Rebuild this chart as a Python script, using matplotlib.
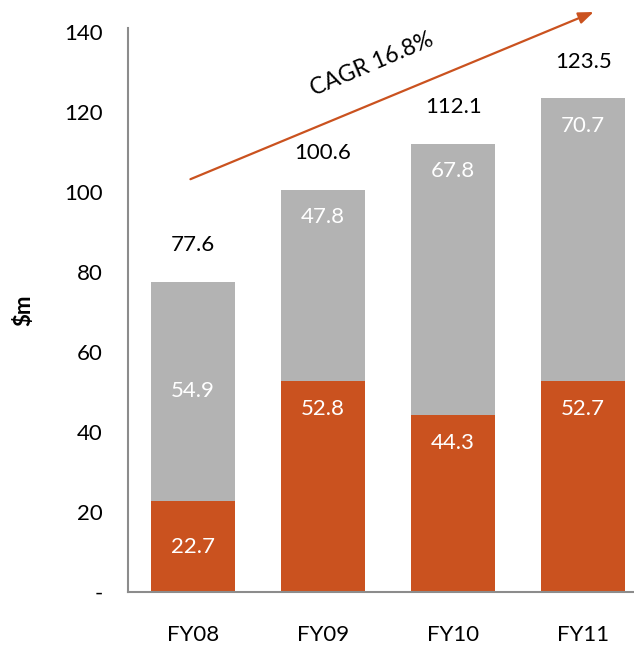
import matplotlib
matplotlib.use("Agg")
import matplotlib.pyplot as plt
from matplotlib.ticker import FuncFormatter

plt.rcParams['font.family'] = ['Lato', 'DejaVu Sans']

# Revenue split by fiscal year ($m)
years = ["FY08", "FY09", "FY10", "FY11"]
lower = [22.7, 52.8, 44.3, 52.7]     # orange segment
upper = [54.9, 47.8, 67.8, 70.7]     # grey segment
totals = [77.6, 100.6, 112.1, 123.5]
cagr_text = "CAGR 16.8%"

ORANGE = "#CA521F"
GREY = "#B3B3B3"

fig = plt.figure(figsize=(6.34, 6.49), dpi=100)
ax = fig.add_axes([128 / 634, 57 / 649, 1 - 128 / 634, 564 / 649])

x = list(range(len(years)))
width = 0.646
ax.bar(x, lower, width, color=ORANGE, zorder=2)
ax.bar(x, upper, width, bottom=lower, color=GREY, zorder=2)

fs = 16
for i in x:
    lo, up, tot = lower[i], upper[i], totals[i]
    if i == 0:
        # first column: values centred in their segments
        ax.text(i, lo / 2, f"{lo:.1f}", ha="center", va="center",
                color="white", fontsize=fs)
        ax.text(i, lo + up / 2, f"{up:.1f}", ha="center", va="center",
                color="white", fontsize=fs)
    else:
        ax.annotate(f"{lo:.1f}", (i, lo), xytext=(0, -20),
                    textcoords="offset points", ha="center", va="center",
                    color="white", fontsize=fs)
        ax.annotate(f"{up:.1f}", (i, lo + up), xytext=(0, -20),
                    textcoords="offset points", ha="center", va="center",
                    color="white", fontsize=fs)
    ax.annotate(f"{tot:.1f}", (i, lo + up), xytext=(0, 26),
                textcoords="offset points", ha="center", va="center",
                color="black", fontsize=fs)

# growth arrow with CAGR annotation
ax.annotate("", xy=(3.08, 145), xytext=(-0.02, 103.2),
            arrowprops=dict(arrowstyle="-|>,head_length=0.9,head_width=0.35",
                            color=ORANGE, lw=1.6, shrinkA=0, shrinkB=0),
            annotation_clip=False)
ax.text(1.375, 132, cagr_text, rotation=23, ha="center", va="center",
        fontsize=16.5, color="black", rotation_mode="anchor")

ax.set_xlim(-0.5, 3.39)
ax.set_ylim(0, 141)
ax.set_yticks(range(0, 141, 20))
ax.yaxis.set_major_formatter(FuncFormatter(lambda v, p: "-" if v == 0 else f"{v:.0f}"))
ax.set_xticks(x)
ax.set_xticklabels(years)
ax.tick_params(axis="both", length=0, labelsize=fs, colors="black")
ax.tick_params(axis="y", pad=18)
ax.tick_params(axis="x", pad=24)

for s in ("top", "right"):
    ax.spines[s].set_visible(False)
for s in ("left", "bottom"):
    ax.spines[s].set_color("#8C8C8C")
    ax.spines[s].set_linewidth(1.5)

ax.set_ylabel("$m", fontsize=fs, fontweight="bold", labelpad=22)

fig.savefig("out.png", dpi=100)
